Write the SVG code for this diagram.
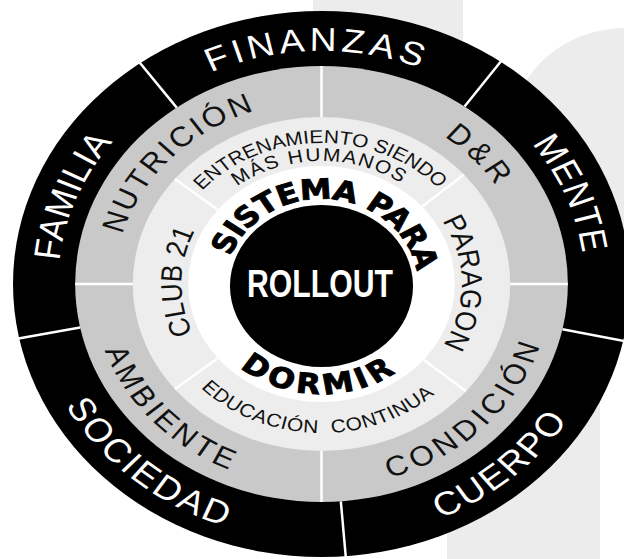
<svg xmlns="http://www.w3.org/2000/svg" width="624" height="559" viewBox="0 0 624 559">
<style>
.out{font-family:"Liberation Sans",Arial,sans-serif;font-size:33px;fill:#fff}
.mid{font-family:"Liberation Sans",Arial,sans-serif;font-size:28px;fill:#111}
.side{font-family:"Liberation Sans",Arial,sans-serif;font-size:26px;fill:#111}
.in{font-family:"Liberation Sans",Arial,sans-serif;font-size:18.5px;fill:#111}
.bold{font-family:"DejaVu Sans",Verdana,sans-serif;font-weight:bold;font-size:28px;fill:#000;stroke:#000;stroke-width:0.9px}
.div{stroke:#fff;stroke-width:2.5;vector-effect:non-scaling-stroke}
.bg{fill:#ececec}
</style>
<defs>
<path id="cw233" d="M0,233 A233,233 0 1 1 0,-233 A233,233 0 1 1 0,233"/>
<path id="cw183" d="M0,183 A183,183 0 1 1 0,-183 A183,183 0 1 1 0,183"/>
<path id="cw141" d="M0,141 A141,141 0 1 1 0,-141 A141,141 0 1 1 0,141"/>
<path id="cw123" d="M0,123 A123,123 0 1 1 0,-123 A123,123 0 1 1 0,123"/>
<path id="cw124" d="M0,124 A124,124 0 1 1 0,-124 A124,124 0 1 1 0,124"/>
<path id="cw85" d="M0,85 A85,85 0 1 1 0,-85 A85,85 0 1 1 0,85"/>
<path id="ccw257" d="M0,-257 A257,257 0 1 0 0,257 A257,257 0 1 0 0,-257"/>
<path id="ccw203" d="M0,-203 A203,203 0 1 0 0,203 A203,203 0 1 0 0,-203"/>
<path id="ccw149" d="M0,-149 A149,149 0 1 0 0,149 A149,149 0 1 0 0,-149"/>
<path id="ccw110" d="M0,-110 A110,110 0 1 0 0,110 A110,110 0 1 0 0,-110"/>
</defs>
<rect width="624" height="559" fill="#fff"/>
<g id="background">
<rect class="bg" x="313" y="0" width="150" height="80"/>
<path class="bg" d="M505,160 C505,80 555,30 624,28 L624,320 L505,320 Z"/>
<rect class="bg" x="447" y="320" width="153" height="239"/>
</g>
<g transform="translate(321.5,284) scale(1.13,1)">
<g id="rings">
<circle id="ring-outer" r="273" fill="#000"/>
<circle id="ring-middle" r="218" fill="#c9c9c9"/>
<circle id="ring-inner" r="167" fill="#ededed"/>
<circle id="ring-white" r="118" fill="#fff"/>
<circle id="core" cx="0" cy="2" r="81" fill="#000"/>
</g>
<g id="connectors">
<line class="div" x1="0" y1="-218" x2="0" y2="-280" transform="rotate(-36)"/>
<line class="div" x1="0" y1="-218" x2="0" y2="-280" transform="rotate(35.5)"/>
<line class="div" x1="0" y1="-218" x2="0" y2="-280" transform="rotate(102)"/>
<line class="div" x1="0" y1="-218" x2="0" y2="-280" transform="rotate(175.5)"/>
<line class="div" x1="0" y1="-218" x2="0" y2="-280" transform="rotate(-101.5)"/>
<line class="div" x1="0" y1="-167" x2="0" y2="-218"/>
<line class="div" x1="0" y1="-167" x2="0" y2="-218" transform="rotate(90)"/>
<line class="div" x1="0" y1="-167" x2="0" y2="-218" transform="rotate(180)"/>
<line class="div" x1="0" y1="-167" x2="0" y2="-218" transform="rotate(270)"/>
<line class="div" x1="0" y1="-118" x2="0" y2="-167" transform="rotate(49)"/>
<line class="div" x1="0" y1="-118" x2="0" y2="-167" transform="rotate(130)"/>
<line class="div" x1="0" y1="-118" x2="0" y2="-167" transform="rotate(-129)"/>
<line class="div" x1="0" y1="-118" x2="0" y2="-167" transform="rotate(-51)"/>
</g>
<g id="finanzas"><text class="out" letter-spacing="3.8" text-anchor="middle"><textPath href="#cw233" startOffset="49.72%">FINANZAS</textPath></text></g>
<g id="familia"><text class="out" letter-spacing="0.5" text-anchor="middle"><textPath href="#cw233" startOffset="31.04%">FAMILIA</textPath></text></g>
<g id="mente"><text class="out" letter-spacing="1" text-anchor="middle"><textPath href="#cw233" startOffset="68.83%">MENTE</textPath></text></g>
<g id="cuerpo"><text class="out" letter-spacing="2" text-anchor="middle"><textPath href="#ccw257" startOffset="61.47%">CUERPO</textPath></text></g>
<g id="sociedad"><text class="out" letter-spacing="2.4" text-anchor="middle"><textPath href="#ccw257" startOffset="38.78%">SOCIEDAD</textPath></text></g>
<g id="nutricion"><text class="mid" letter-spacing="2.6" text-anchor="middle"><textPath href="#cw183" startOffset="37.15%">NUTRICIÓN</textPath></text></g>
<g id="dr"><text class="mid" letter-spacing="4" text-anchor="middle"><textPath href="#cw183" startOffset="63.19%">D&amp;R</textPath></text></g>
<g id="condicion"><text class="mid" letter-spacing="4.3" text-anchor="middle"><textPath href="#ccw203" startOffset="62.6%">CONDICIÓN</textPath></text></g>
<g id="ambiente"><text class="mid" letter-spacing="3.4" text-anchor="middle"><textPath href="#ccw203" startOffset="36.99%">AMBIENTE</textPath></text></g>
<g id="entrenamiento">
<text class="in" text-anchor="middle"><textPath href="#cw141" startOffset="49.83%">ENTRENAMIENTO SIENDO</textPath></text>
<text class="in" letter-spacing="1.5" text-anchor="middle"><textPath href="#cw123" startOffset="49.74%">MÁS HUMANOS</textPath></text>
</g>
<g id="club21"><text class="side" text-anchor="middle"><textPath href="#cw124" startOffset="25.25%">CLUB 21</textPath></text></g>
<g id="paragon"><text class="side" letter-spacing="0.5" text-anchor="middle"><textPath href="#cw124" startOffset="74.9%">PARAGON</textPath></text></g>
<g id="educacion"><text class="in" letter-spacing="0.6" word-spacing="6" text-anchor="middle"><textPath href="#ccw149" startOffset="49.53%">EDUCACIÓN CONTINUA</textPath></text></g>
<g id="sistema"><text class="bold" letter-spacing="-0.5" text-anchor="middle"><textPath href="#cw85" startOffset="51.38%">SISTEMA PARA</textPath></text></g>
<g id="dormir"><text class="bold" letter-spacing="4" text-anchor="middle"><textPath href="#ccw110" startOffset="49.68%">DORMIR</textPath></text></g>
</g>
<g id="rollout"><text x="247" y="297" font-family="Liberation Sans, Arial, sans-serif" font-weight="bold" font-size="39" fill="#fff" textLength="146" lengthAdjust="spacingAndGlyphs">ROLLOUT</text></g>
</svg>
